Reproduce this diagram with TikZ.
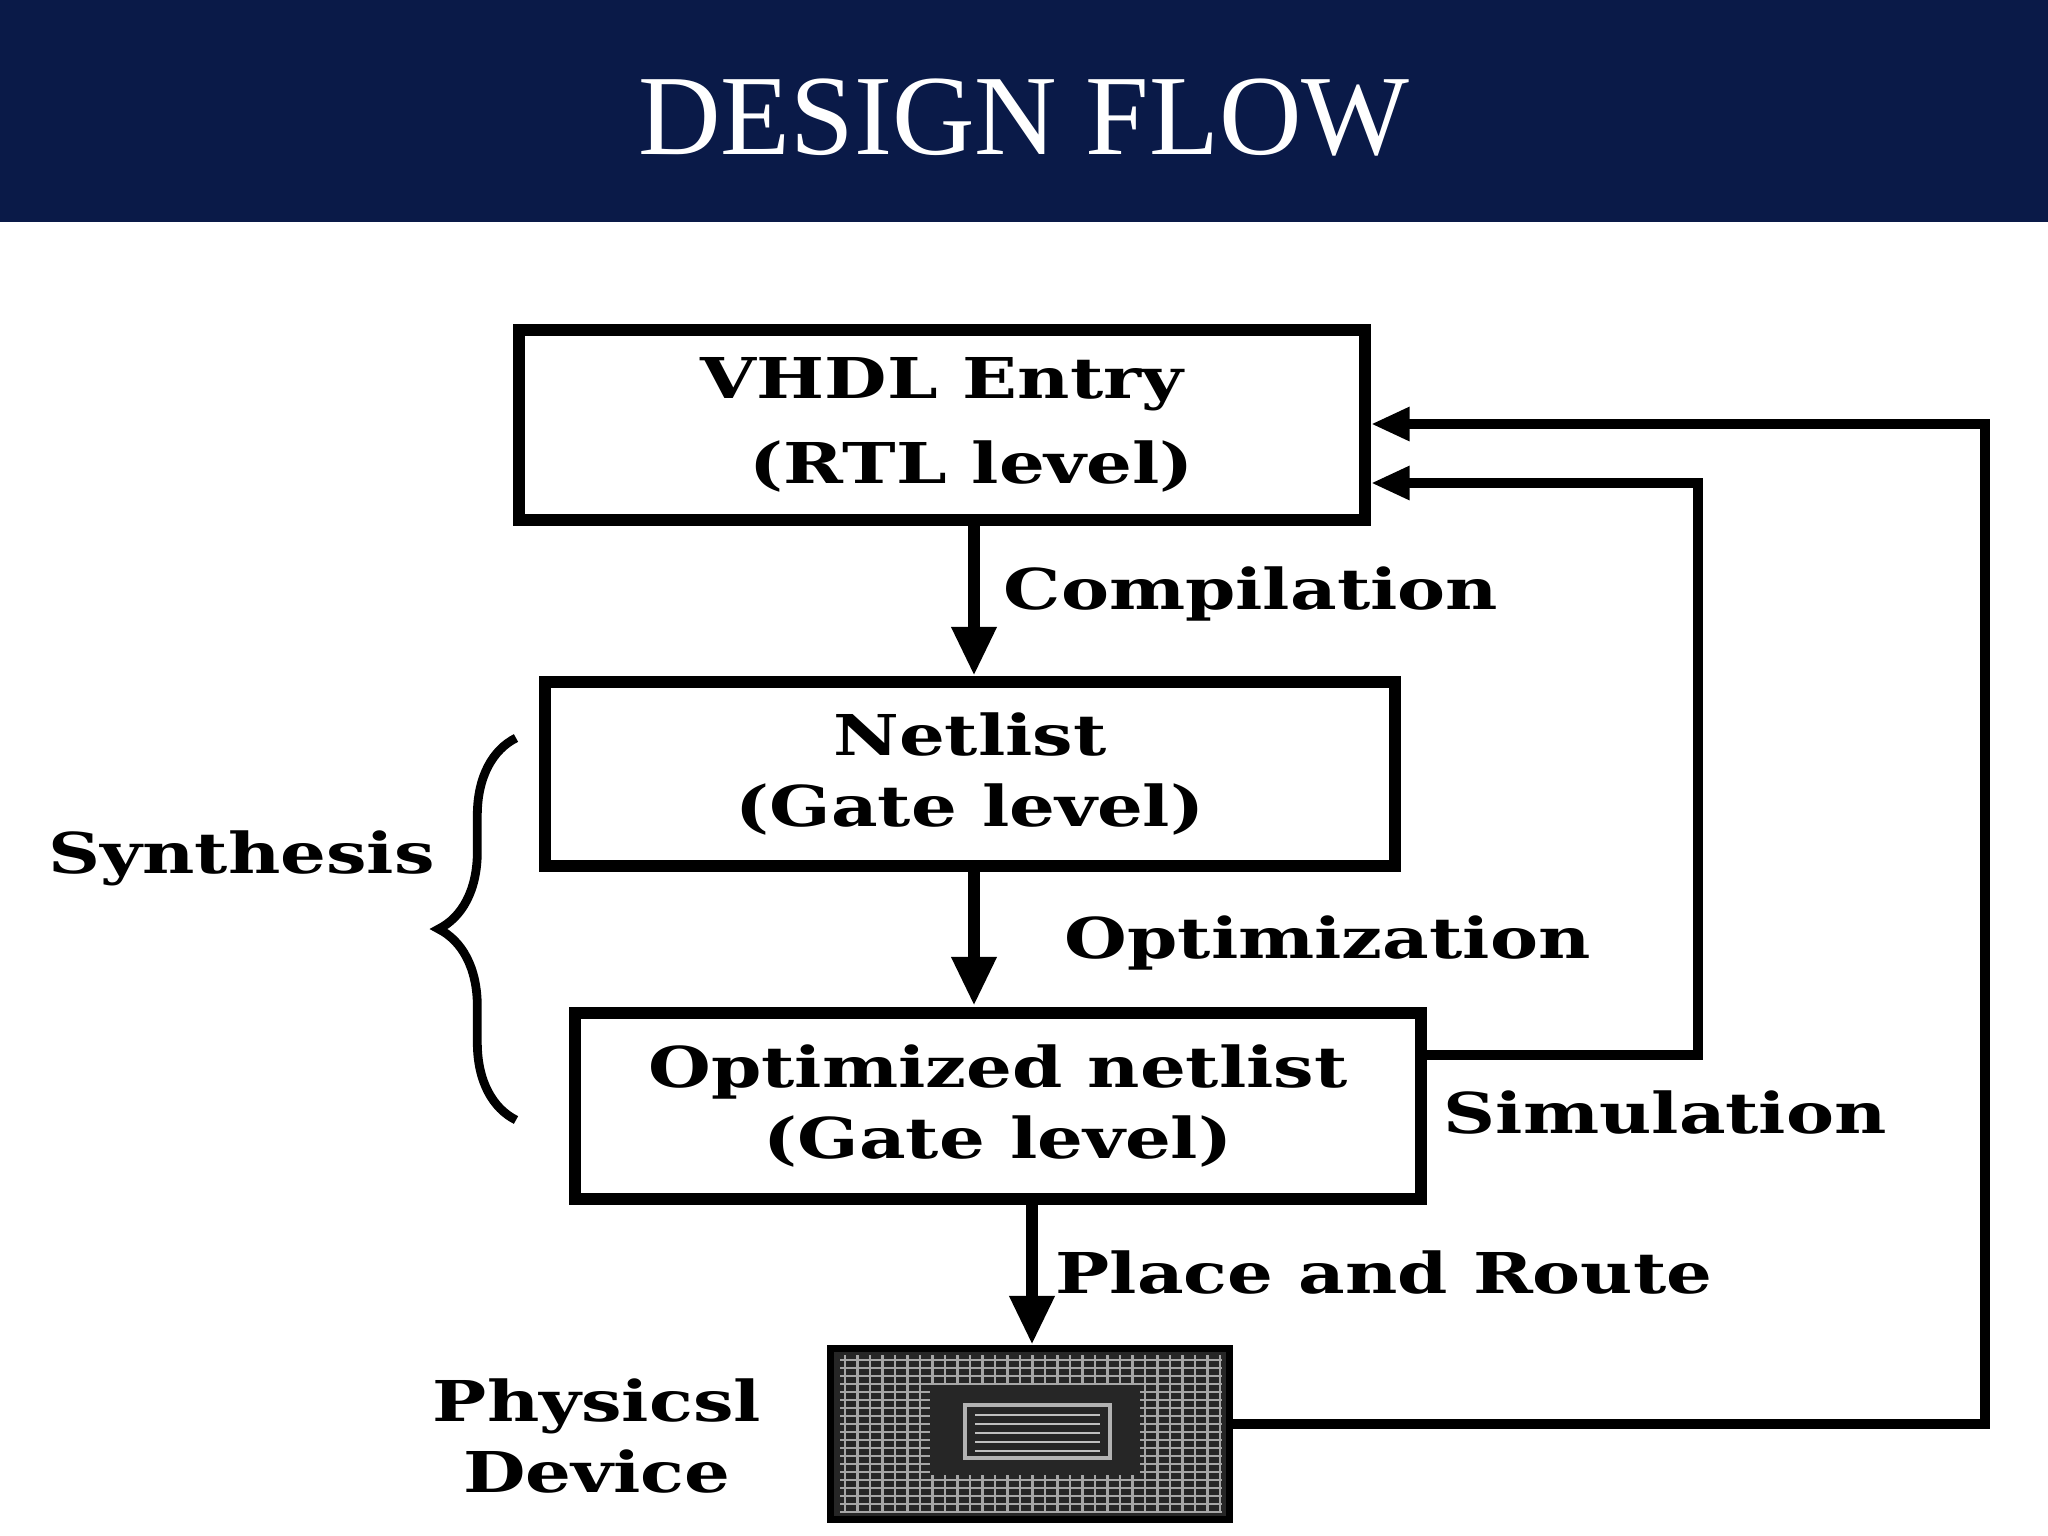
\documentclass[tikz,border=0pt]{standalone}
\usepackage{fontspec}
\setmainfont{DejaVu Serif}[FakeStretch=1.28]
\newfontfamily\titlefont{Liberation Serif}
\usetikzlibrary{arrows.meta,decorations.pathreplacing}
\begin{document}
\begin{tikzpicture}[x=0.01cm,y=-0.01cm,
  box/.style={draw,line width=3.5pt,minimum width=0cm,inner sep=0pt,align=center,font=\bfseries\fontsize{16}{20}\selectfont},
  lab/.style={font=\bfseries\fontsize{16}{20}\selectfont,anchor=west,inner sep=0pt,align=center},
  arr/.style={line width=3.5pt,-{Triangle[length=14pt,width=12pt]}},
  arrs/.style={line width=3pt,-{Triangle[length=11pt,width=9pt]}}]
\useasboundingbox (0,0) rectangle (2048,1536);
\fill[white] (0,0) rectangle (2048,1536);
\fill[fill={rgb,255:red,10;green,26;blue,72}] (0,0) rectangle (2048,222);
\node[text=white,font=\titlefont\fontsize{32.5}{40}\selectfont] (title) at (1024,118) {DESIGN FLOW};
\node[box,minimum width=8.45cm,minimum height=1.9cm] (b1) at (942,425) {VHDL Entry\\[4pt]\hspace{0.6cm}(RTL level)};
\node[box,minimum width=8.49cm,minimum height=1.84cm] (b2) at (970,774) {Netlist\\(Gate level)};
\node[box,minimum width=8.45cm,minimum height=1.86cm] (b3) at (998,1106) {Optimized netlist\\(Gate level)};
% chip
\node[draw=black,fill=black!85,line width=2pt,minimum width=3.99cm,minimum height=1.7cm,inner sep=0pt] (chip) at (1030,1434) {};
\begin{scope}
\clip (chip.south west) rectangle (chip.north east);
\foreach \i in {0,...,30} \draw[gray!70,line width=0.8pt] (845+\i*12.5,1355) -- (845+\i*12.5,1512);
\foreach \j in {0,...,19} \draw[gray!70,line width=0.8pt] (840,1360+\j*8) -- (1222,1360+\j*8);
\fill[black!85] (930,1385) rectangle (1140,1475);
\draw[gray!60,line width=1.2pt] (965,1405) rectangle (1110,1458);
\foreach \j in {0,...,4} \draw[gray!50,line width=0.8pt] (975,1415+\j*9) -- (1100,1415+\j*9);
\end{scope}
\coordinate (t1) at (974,676);
\coordinate (t2) at (974,1006);
\coordinate (t3) at (1032,1345);
\draw[arr] (b1.south -| t1) -- (t1);
\draw[arr] (b2.south -| t2) -- (t2);
\draw[arr] (b3.south -| t3) -- (t3);
\coordinate (s1) at (1698,1055);
\coordinate (s2) at (1698,483);
\coordinate (o1) at (1985,1424);
\coordinate (o2) at (1985,424);
\draw[arrs] (b3.east |- s1) -- (s1) -- (s2) -- (b1.east |- s2);
\draw[arrs] (chip.east |- o1) -- (o1) -- (o2) -- (b1.east |- o2);
\node[lab] (l1) at (1003,594) {Compilation};
\node[lab] (l2) at (1064,943) {Optimization};
\node[lab] (l3) at (1443,1113) {Simulation};
\node[lab] (l4) at (1055,1273) {Place and Route};
\node[lab] (l5) at (48,858) {Synthesis};
\node[lab,anchor=center] (l6) at (597,1436) {Physicsl\\Device};
\coordinate (br1) at (516,738);
\coordinate (br2) at (516,1120);
\draw[line width=2.5pt,decorate,decoration={brace,amplitude=22pt,aspect=0.5}] (br2) -- (br1);
\end{tikzpicture}
\end{document}
